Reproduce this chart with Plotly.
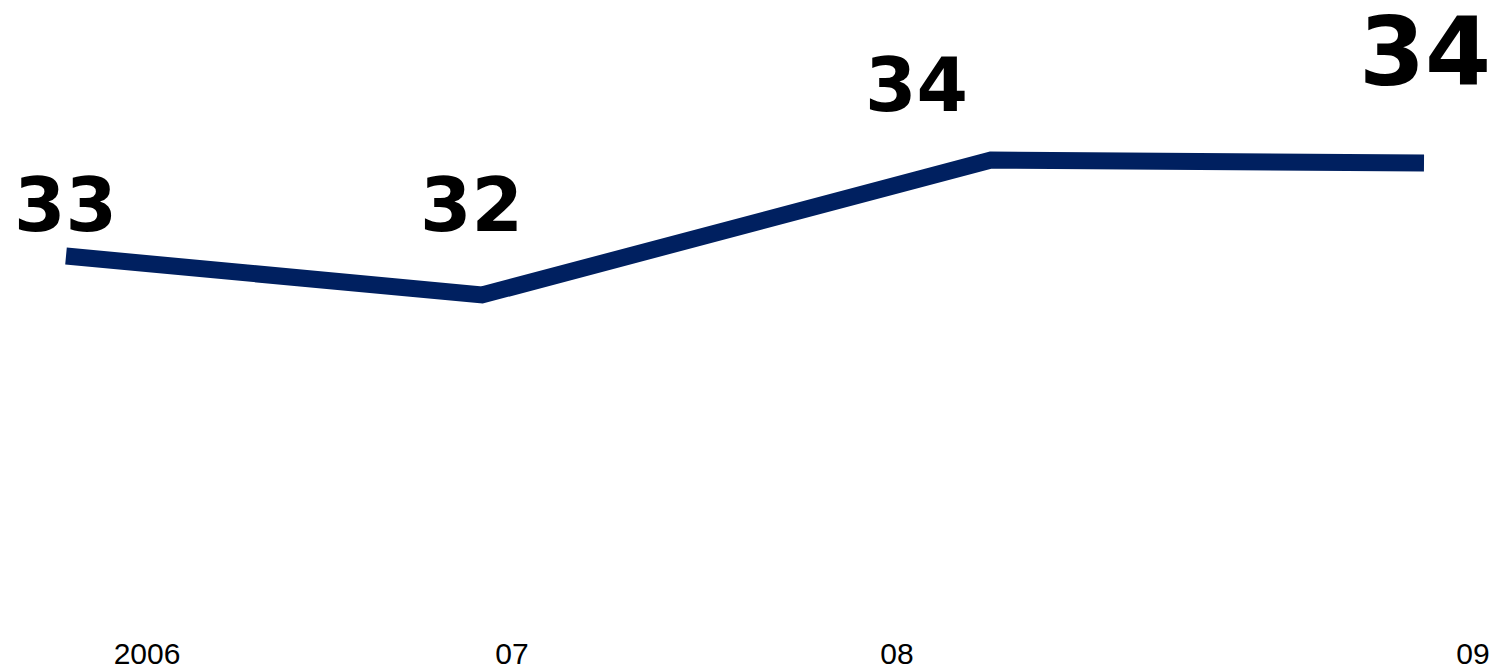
import plotly.graph_objects as go

# Data
point_pos = [66, 482, 991, 1424]          # horizontal position of each period's point (axis units)
values = [32.79, 32.40, 33.75, 33.72]      # estimated underlying values
value_labels = ["33", "32", "34", "34"]
tick_pos = [147, 512, 897, 1473]
tick_labels = ["2006", "07", "08", "09"]

# Styles / label placement
label_sizes = [74, 74, 74, 95]
label_xshift = [-1, -11, -75, 1]
label_yshift = [51, 90, 75, 111]

fig = go.Figure()
fig.add_trace(go.Scatter(
    x=point_pos, y=values, mode="lines",
    line=dict(color="#002060", width=17),
    hoverinfo="skip", showlegend=False,
))

for x, y, t, s, dx, dy in zip(point_pos, values, value_labels, label_sizes, label_xshift, label_yshift):
    fig.add_annotation(
        x=x, y=y, text=f"<b>{t}</b>", showarrow=False,
        xshift=dx, yshift=dy, xanchor="center", yanchor="middle",
        font=dict(family="DejaVu Sans", size=s, color="#000000"),
    )

fig.update_layout(
    width=1496, height=670,
    margin=dict(l=0, r=0, t=0, b=40),
    paper_bgcolor="white", plot_bgcolor="white",
    xaxis=dict(range=[0, 1496], tickvals=tick_pos, ticktext=tick_labels,
               showgrid=False, zeroline=False, showline=False, ticks="",
               ticklabelstandoff=3,
               tickfont=dict(family="Liberation Sans", size=30, color="#000000")),
    yaxis=dict(range=[29.05, 35.35], visible=False, showgrid=False, zeroline=False),
)

fig.write_html("out.html", config={"displayModeBar": False},
               post_script="document.body.style.margin='0';document.body.style.overflow='hidden';")
